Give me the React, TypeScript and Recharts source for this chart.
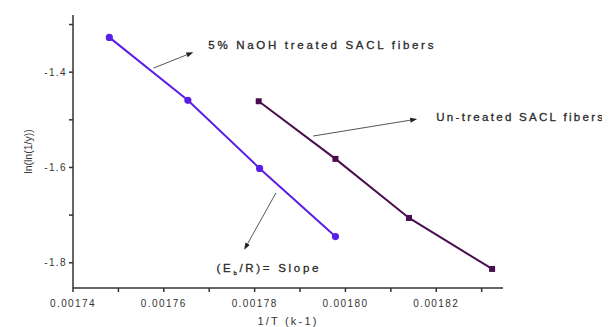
import { LineChart, Line, XAxis, YAxis, ReferenceLine, ReferenceDot } from "recharts";

// 1/T values and ln(ln(1/y)) values
const naohX = [0.001748, 0.0017653, 0.0017811, 0.0017978];
const naohY = [-1.327, -1.459, -1.602, -1.745];
const untreatedX = [0.0017809, 0.0017978, 0.001814, 0.0018323];
const untreatedY = [-1.461, -1.582, -1.706, -1.813];

const xTicks = [0.00174, 0.00175, 0.00176, 0.00177, 0.00178, 0.00179, 0.0018, 0.00181, 0.00182, 0.00183];
const yTicks = [-1.3, -1.4, -1.5, -1.6, -1.7, -1.8];
const xLabeled = [0.00174, 0.00176, 0.00178, 0.0018, 0.00182];
const yLabeled = [-1.4, -1.6, -1.8];

const naohData = naohX.map((x, i) => ({ x, y: naohY[i] }));
const untreatedData = untreatedX.map((x, i) => ({ x, y: untreatedY[i] }));

const FONT = "'Liberation Sans', Arial, sans-serif";
const TEXT = "#333";

const near = (v: number, list: number[]) => list.some((t) => Math.abs(t - v) < 1e-9);

const Square = (props: any) => {
  const { cx, cy } = props;
  if (cx == null || cy == null) return null;
  return <rect x={cx - 3} y={cy - 3} width={6} height={6} fill="#4a0e4e" />;
};

const Arrow = (props: any) => {
  const { x1, y1, x2, y2 } = props;
  if ([x1, y1, x2, y2].some((v) => v == null)) return null;
  const a = Math.atan2(y2 - y1, x2 - x1);
  const L = 7;
  const W = 2.5;
  const bx = x2 - L * Math.cos(a);
  const by = y2 - L * Math.sin(a);
  const px = -Math.sin(a) * W;
  const py = Math.cos(a) * W;
  return (
    <g>
      <line x1={x1} y1={y1} x2={bx} y2={by} stroke="#555" strokeWidth={1} />
      <polygon points={`${x2},${y2} ${bx + px},${by + py} ${bx - px},${by - py}`} fill="#222" />
    </g>
  );
};

const annoText = (text: string, spacing: number, sub?: boolean) => (props: any) => {
  const { viewBox } = props;
  if (!viewBox) return null;
  const x = viewBox.x + (viewBox.width || 0) / 2;
  const y = viewBox.y + (viewBox.height || 0) / 2;
  const common = {
    x,
    y,
    dy: 4,
    fill: "#2a2a2a",
    fontFamily: FONT,
    fontSize: 11.5,
    letterSpacing: spacing,
    stroke: "#2a2a2a",
    strokeWidth: 0.3,
  };
  if (sub) {
    return (
      <text {...common}>
        (E<tspan fontSize={6} dy={3}>b</tspan>
        <tspan dy={-3}>/R)= Slope</tspan>
      </text>
    );
  }
  return <text {...common}>{text}</text>;
};

export default function App() {
  return (
    <LineChart width={602} height={319} margin={{ top: 7, right: 107, left: 0, bottom: 0 }}>
      <XAxis
        type="number"
        dataKey="x"
        domain={[0.00174, 0.0018347]}
        ticks={xTicks}
        allowDataOverflow
        height={39}
        tickSize={4}
        tickMargin={8}
        stroke="#333"
        strokeWidth={1.5}
        tick={{ fontSize: 10, fill: TEXT, fontFamily: FONT, letterSpacing: 1.4 }}
        tickFormatter={(v: number) => (near(v, xLabeled) ? v.toFixed(5) : "")}
        label={{ value: "1/T (k-1)", position: "insideBottom", offset: 2, fontSize: 11, fill: TEXT, fontFamily: FONT, letterSpacing: 2.2 }}
      />
      <YAxis
        type="number"
        dataKey="y"
        domain={[-1.853, -1.28]}
        ticks={yTicks}
        allowDataOverflow
        width={65}
        tickSize={4}
        stroke="#333"
        strokeWidth={1.5}
        tick={{ fontSize: 10, fill: TEXT, fontFamily: FONT, letterSpacing: 1.4 }}
        tickFormatter={(v: number) => (near(v, yLabeled) ? v.toFixed(1) : "")}
        label={{ value: "ln(ln(1/y))", angle: -90, position: "insideLeft", offset: 20, fontSize: 10.5, fill: TEXT, fontFamily: FONT, style: { textAnchor: "middle" } }}
      />
      <Line
        data={naohData}
        dataKey="y"
        stroke="#5b1ee6"
        strokeWidth={2}
        dot={{ r: 2.6, fill: "#5b1ee6", stroke: "#5b1ee6" }}
        isAnimationActive={false}
      />
      <Line
        data={untreatedData}
        dataKey="y"
        stroke="#4a0e4e"
        strokeWidth={2}
        dot={<Square />}
        isAnimationActive={false}
      />
      <ReferenceLine segment={[{ x: 0.0017577, y: -1.3916 }, { x: 0.0017665, y: -1.3581 }]} shape={<Arrow />} ifOverflow="visible" />
      <ReferenceLine segment={[{ x: 0.0017929, y: -1.534 }, { x: 0.0018158, y: -1.4984 }]} shape={<Arrow />} ifOverflow="visible" />
      <ReferenceLine segment={[{ x: 0.0017847, y: -1.6534 }, { x: 0.0017777, y: -1.7728 }]} shape={<Arrow />} ifOverflow="visible" />
      <ReferenceDot x={0.0017698} y={-1.3434} r={0} ifOverflow="visible" label={annoText("5% NaOH treated SACL fibers", 2.7)} />
      <ReferenceDot x={0.00182} y={-1.4942} r={0} ifOverflow="visible" label={annoText("Un-treated SACL fibers", 2.3)} />
      <ReferenceDot x={0.0017716} y={-1.8105} r={0} ifOverflow="visible" label={annoText("", 2.7, true)} />
    </LineChart>
  );
}
